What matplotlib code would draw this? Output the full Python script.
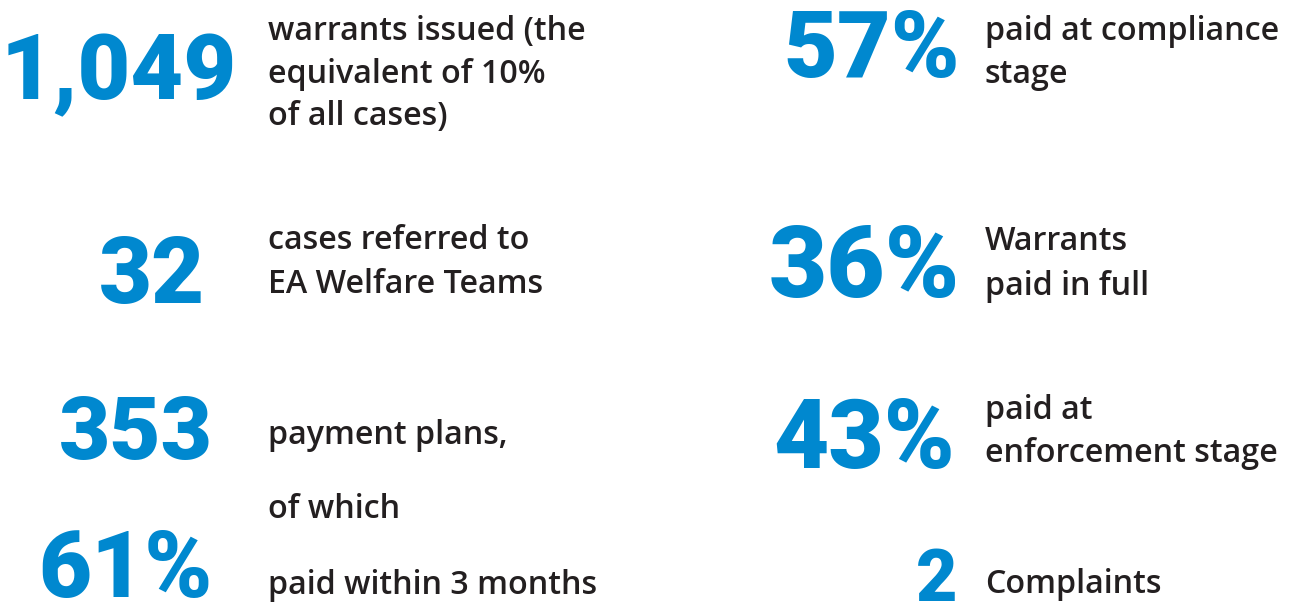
import matplotlib; matplotlib.use("Agg")
import matplotlib.pyplot as plt

BLUE = "#0088cf"
DARK = "#231f20"

# headline figures
numbers = ["1,049", "32", "353", "61%", "57%", "36%", "43%", "2"]
# boxes of the figures in pixels: right edge, top, bottom
num_right = [237, 205, 213, 213, 960, 960, 955, 958]
num_top = [32, 235, 390, 530, 2, 218, 390, 550]
num_bottom = [102, 305, 465, 598, 85, 305, 478, 601]
num_left = [10, 103, 65, 45, 790, 776, 780, 908]

# captions, one entry per line
captions = [
    "warrants issued (the", "equivalent of 10%", "of all cases)",
    "cases referred to", "EA Welfare Teams",
    "payment plans,", "of which", "paid within 3 months",
    "paid at compliance", "stage",
    "Warrants", "paid in full",
    "paid at", "enforcement stage",
    "Complaints",
]
cap_x = [268]*8 + [985]*7
cap_base = [40, 83, 125, 249, 293, 444, 518, 594,
            40, 83, 250, 295, 419, 462, 593]

W, H = 1294, 603
fig = plt.figure(figsize=(W/100, H/100), dpi=100)
ax = fig.add_axes([0, 0, 1, 1]); ax.axis("off")
ax.set_xlim(0, W); ax.set_ylim(H, 0)

PT = 100/72      # pixels per point
CAPH = 0.711     # Roboto cap height / em

fig.canvas.draw()
r = fig.canvas.get_renderer()
for s, xr, t, b, xl in zip(numbers, num_right, num_top, num_bottom, num_left):
    h = b - t
    fs = h/(CAPH*PT)
    tx = ax.text(xr, b, s, ha="right", va="baseline", color=BLUE,
                 fontsize=fs, family="Roboto", weight="black")
    w = tx.get_window_extent(r).width
    if w > (xr - xl)*1.04:
        fs = fs*(xr - xl)*1.04/w
        tx.set_fontsize(fs)
        tx.set_y((t + b)/2 + fs*CAPH*PT/2)

for s, x, yb in zip(captions, cap_x, cap_base):
    ax.text(x, yb, s, ha="left", va="baseline", color=DARK,
            fontsize=23.2, family="Open Sans", weight="semibold")

fig.savefig("out.png", dpi=100, facecolor="white")
plt.close(fig)
